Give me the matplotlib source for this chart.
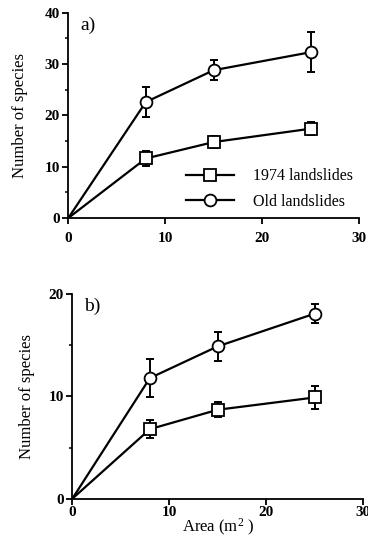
import matplotlib
matplotlib.use("Agg")
import matplotlib.pyplot as plt

# area of plots (m2); the origin point has no marker
area = [0, 8, 15, 25]

# panel a)
a_1974 = [0, 11.6, 14.8, 17.4]
a_1974_err = [0, 1.5, 1.1, 1.3]
a_old = [0, 22.6, 28.8, 32.3]
a_old_err = [0, 3.0, 1.9, 3.9]

# panel b)
b_1974 = [0, 6.8, 8.7, 9.9]
b_1974_err = [0, 0.85, 0.75, 1.1]
b_old = [0, 11.8, 14.9, 18.1]
b_old_err = [0, 1.9, 1.45, 0.95]

series_labels = ["1974 landslides", "Old landslides"]
xticks = [0, 10, 20, 30]

plt.rcParams['font.family'] = ['Liberation Serif', 'DejaVu Serif']
plt.rcParams['mathtext.fontset'] = 'custom'
plt.rcParams['mathtext.rm'] = 'Liberation Serif'
plt.rcParams['mathtext.it'] = 'Liberation Serif:italic'

fig = plt.figure(figsize=(3.68, 5.41), dpi=100)
ax1 = fig.add_axes([0.1856, 0.597, 0.79, 0.3795])
ax2 = fig.add_axes([0.1965, 0.0782, 0.7905, 0.378])


def draw(ax, y1, e1, y2, e2, ymax, ystep, panel):
    for y, e, mk, lab in [(y1, e1, 's', series_labels[0]), (y2, e2, 'o', series_labels[1])]:
        ax.errorbar(area[1:], y[1:], yerr=e[1:], fmt='none', ecolor='black',
                    elinewidth=1.4, capsize=3, capthick=1.4, zorder=2)
        ax.plot(area, y, color='black', lw=1.6, marker=mk, markevery=[1, 2, 3],
                markersize=8.5, markerfacecolor='white', markeredgecolor='black',
                markeredgewidth=1.3, label=lab, zorder=3)
    ax.set_xlim(0, 30)
    ax.set_ylim(0, ymax)
    ax.set_xticks(xticks)
    ax.set_yticks(range(0, ymax + 1, ystep))
    ax.set_yticks(range(ystep // 2, ymax, ystep), minor=True)
    ax.spines['top'].set_visible(False)
    ax.spines['right'].set_visible(False)
    ax.spines['left'].set_linewidth(1.3)
    ax.spines['bottom'].set_linewidth(1.3)
    ax.tick_params(which='major', direction='out', length=4, width=1.3, labelsize=11)
    ax.tick_params(which='minor', direction='out', length=2.5, width=1.1)
    ax.tick_params(axis='x', which='minor', bottom=False)
    ax.tick_params(axis='y', pad=2)
    for t in ax.get_xticklabels() + ax.get_yticklabels():
        t.set_fontweight('bold')
    ax.text(0.04, 0.94, panel, transform=ax.transAxes, fontsize=14,
            ha='left', va='center')


draw(ax1, a_1974, a_1974_err, a_old, a_old_err, 40, 10, "a)")
draw(ax2, b_1974, b_1974_err, b_old, b_old_err, 20, 10, "b)")

ax1.set_ylabel("Number of species", fontsize=12, labelpad=12)
ax2.set_ylabel("Number of species", fontsize=12, labelpad=10)
ax1.tick_params(axis='x', pad=6)
ax2.tick_params(axis='x', pad=1)

ax1.legend(loc='lower right', bbox_to_anchor=(1.03, -0.03), frameon=False,
           fontsize=11.5, handlelength=3.0, handletextpad=1.2, labelspacing=0.6)
ax2.set_xlabel("Area (m$^{2}$ )", fontsize=12, labelpad=-1)

fig.savefig("out.png", dpi=100)
